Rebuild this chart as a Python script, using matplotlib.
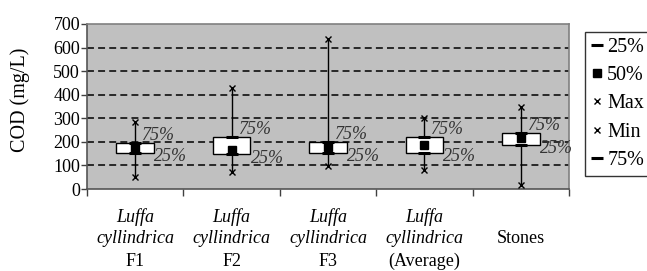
import numpy as np
from matplotlib import pyplot as plt
from matplotlib.lines import Line2D

# Data (COD, mg/L)
groups = ['F1', 'F2', 'F3', '(Average)', 'Stones']
q25 = [154, 148, 154, 154, 187]
q50 = [175, 165, 179, 187, 215]
vmax = [285, 427, 635, 300, 347]
vmin = [52, 73, 97, 81, 17]
q75 = [196, 222, 201, 222, 236]
y_ticks = [0, 100, 200, 300, 400, 500, 600, 700]

plt.rcParams['font.family'] = ['Liberation Serif', 'DejaVu Serif']
plt.rcParams['lines.scale_dashes'] = False

fig = plt.figure(figsize=(6.47, 2.71), dpi=100)
ax = fig.add_axes([87 / 647, 1 - 189 / 271, 482 / 647, 165 / 271])
ax.set_facecolor('#c0c0c0')

x = np.arange(len(groups))
box_w = 0.39

# dashed grid
for yv in y_ticks[1:-1]:
    ax.axhline(yv, color='black', lw=1.1, linestyle=(0, (5, 3)), zorder=1)

# whiskers (high-low lines) with x markers
for i in x:
    ax.plot([i, i], [vmin[i], vmax[i]], color='black', lw=1.0, zorder=2)
ax.plot(x, vmax, 'x', color='black', ms=4.5, mew=1.0, zorder=5)
ax.plot(x, vmin, 'x', color='black', ms=4.5, mew=1.0, zorder=5)

# boxes (up bars)
for i in x:
    ax.bar(i, q75[i] - q25[i], bottom=q25[i], width=box_w, color='white',
           edgecolor='black', lw=1.0, zorder=3)

ax.plot(x, q25, '_', color='black', ms=9, mew=2.2, zorder=6)
ax.plot(x, q75, '_', color='black', ms=9, mew=2.2, zorder=6)
ax.plot(x, q50, 's', color='black', ms=6, zorder=7)

# data labels
for i in x:
    ax.annotate('75%', (i, q75[i]), xytext=(7, 7.5), textcoords='offset pixels',
                ha='left', va='center', fontsize=13, style='italic', color='#333333', zorder=8)
    ax.annotate('25%', (i, q25[i]), xytext=(19, -4), textcoords='offset pixels',
                ha='left', va='center', fontsize=13, style='italic', color='#333333', zorder=8)

ax.set_xlim(-0.5, len(groups) - 0.5)
ax.set_ylim(0, 700)
ax.set_yticks(y_ticks)
ax.set_yticklabels([str(v) for v in y_ticks], fontsize=13)
ax.tick_params(axis='y', length=4, width=1, pad=1, color='#404040')

ax.set_xticks(x)
ax.set_xticklabels([''] * len(groups))
ax.tick_params(axis='x', which='major', length=0)
ax.set_xticks(np.arange(len(groups) + 1) - 0.5, minor=True)
ax.tick_params(axis='x', which='minor', length=5, width=1, color='#404040')

for side in ['top', 'right']:
    ax.spines[side].set_color('#808080')
    ax.spines[side].set_linewidth(1.2)
for side in ['left', 'bottom']:
    ax.spines[side].set_color('#555555')
    ax.spines[side].set_linewidth(1.2)

# category labels: italic species name + plain suffix
trans = ax.get_xaxis_transform()
for i, g in enumerate(groups):
    if g == 'Stones':
        ax.text(i, -0.297, 'Stones', transform=trans, ha='center', va='center', fontsize=13)
    else:
        ax.text(i, -0.168, 'Luffa', transform=trans, ha='center', va='center',
                fontsize=13, style='italic')
        ax.text(i, -0.297, 'cyllindrica', transform=trans, ha='center', va='center',
                fontsize=13, style='italic')
        ax.text(i, -0.44, g, transform=trans, ha='center', va='center', fontsize=13)

fig.text(20 / 647, 1 - 100 / 271, 'COD (mg/L)', rotation=90, ha='center', va='center',
         fontsize=14.5)

handles = [
    Line2D([], [], ls='none', marker='_', color='black', ms=9, mew=2.2),
    Line2D([], [], ls='none', marker='s', color='black', ms=6),
    Line2D([], [], ls='none', marker='x', color='black', ms=4.5, mew=1.0),
    Line2D([], [], ls='none', marker='x', color='black', ms=4.5, mew=1.0),
    Line2D([], [], ls='none', marker='_', color='black', ms=9, mew=2.2),
]
leg = fig.legend(handles, ['25%', '50%', 'Max', 'Min', '75%'], loc='upper left',
                 bbox_to_anchor=(585 / 647, 1 - 32 / 271), fontsize=14.5,
                 frameon=True, fancybox=False, handlelength=0.6, handletextpad=0.2,
                 labelspacing=0.45, borderpad=0.3, borderaxespad=0)
leg.get_frame().set_edgecolor('black')
leg.get_frame().set_linewidth(1.0)

fig.savefig('out.png', dpi=100)
